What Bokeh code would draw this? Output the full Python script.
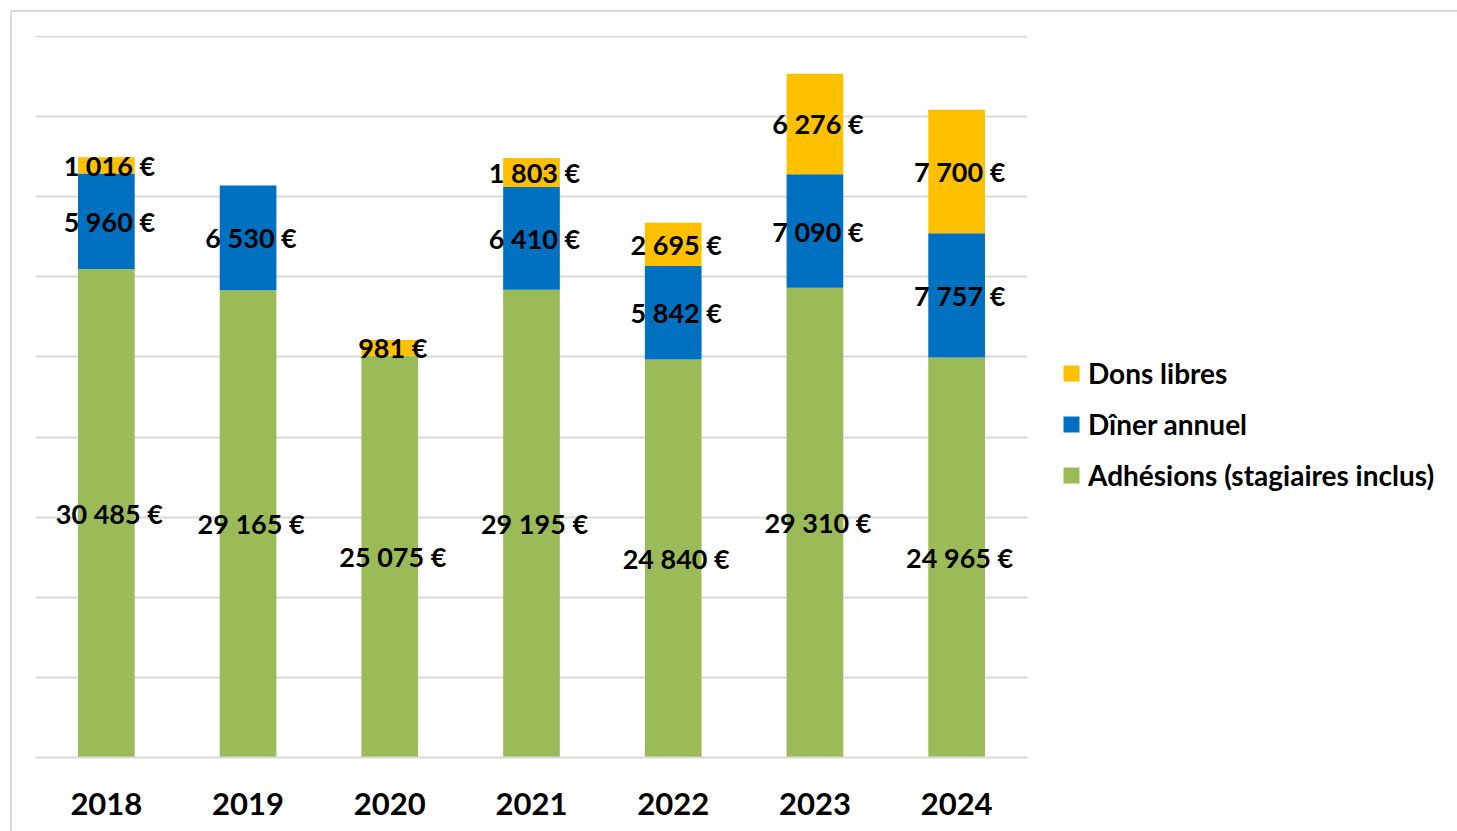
from bokeh.plotting import figure
from bokeh.models import ColumnDataSource, FactorRange, Range1d, FixedTicker, Legend, LegendItem
from bokeh.core.properties import value
from bokeh.embed import file_html
from bokeh.resources import INLINE

years = ["2018", "2019", "2020", "2021", "2022", "2023", "2024"]
adhesions = [30485, 29165, 25075, 29195, 24840, 29310, 24965]
diner = [5960, 6530, 0, 6410, 5842, 7090, 7757]
dons = [1016, 0, 981, 1803, 2695, 6276, 7700]
grid_ticks = [0, 5000, 10000, 15000, 20000, 25000, 30000, 35000, 40000, 45000]

series_names = ["Adhésions (stagiaires inclus)", "Dîner annuel", "Dons libres"]
series_keys = ["adhesions", "diner", "dons"]
colors = ["#9BBB59", "#0070C0", "#FFC000"]

FONT = "Lato"

src = ColumnDataSource(dict(years=years, adhesions=adhesions, diner=diner, dons=dons))

p = figure(x_range=FactorRange(*years, range_padding=0), y_range=Range1d(0, 45060),
           frame_width=992, frame_height=722, output_backend="svg", toolbar_location=None,
           min_border_left=35, min_border_right=0, min_border_top=35, min_border_bottom=74)
p.outline_line_color = None
p.border_fill_color = None
p.styles = {
    "background": "linear-gradient(#d9d9d9,#d9d9d9) 10px 10px / 100% 2px no-repeat, "
                  "linear-gradient(#d9d9d9,#d9d9d9) 10px 10px / 2px 100% no-repeat"
}

renderers = p.vbar_stack(series_keys, x="years", width=0.4, color=colors, source=src, line_color=None)

# labels
lx, ly, lt = [], [], []
for i, y in enumerate(years):
    base = 0
    for key, vals in zip(series_keys, [adhesions, diner, dons]):
        v = vals[i]
        if v > 0:
            lx.append(y)
            ly.append(base + v / 2)
            lt.append(f"{v:,}".replace(",", " ") + " €")
        base += v
lsrc = ColumnDataSource(dict(x=lx, y=ly, t=lt))
p.text(x="x", y="y", text="t", source=lsrc, text_align="center", text_baseline="middle",
       text_font=value(FONT), text_font_style="bold", text_font_size="27px", text_color="black",
       x_offset=3)

# axes
p.yaxis.visible = False
p.ygrid.ticker = FixedTicker(ticks=grid_ticks)
p.ygrid.grid_line_color = "#d9d9d9"
p.ygrid.grid_line_width = 2
p.xgrid.grid_line_color = None
xa = p.xaxis[0]
xa.axis_line_color = "#d9d9d9"
xa.axis_line_width = 2
xa.major_tick_line_color = None
xa.minor_tick_line_color = None
xa.major_label_text_font = FONT
xa.major_label_text_font_style = "bold"
xa.major_label_text_font_size = "31px"
xa.major_label_text_color = "black"
xa.major_label_standoff = 29

legend = Legend(items=[LegendItem(label=series_names[k], renderers=[renderers[k]]) for k in [2, 1, 0]],
                location=(34, 265), padding=0, margin=0, border_line_color=None,
                background_fill_color=None, glyph_width=20, glyph_height=20, label_height=34,
                spacing=17, label_standoff=7, label_text_font=FONT, label_text_font_style="bold",
                label_text_font_size="28px", label_text_color="black")
p.add_layout(legend, "right")

open("out.html", "w").write(file_html(p, INLINE))
